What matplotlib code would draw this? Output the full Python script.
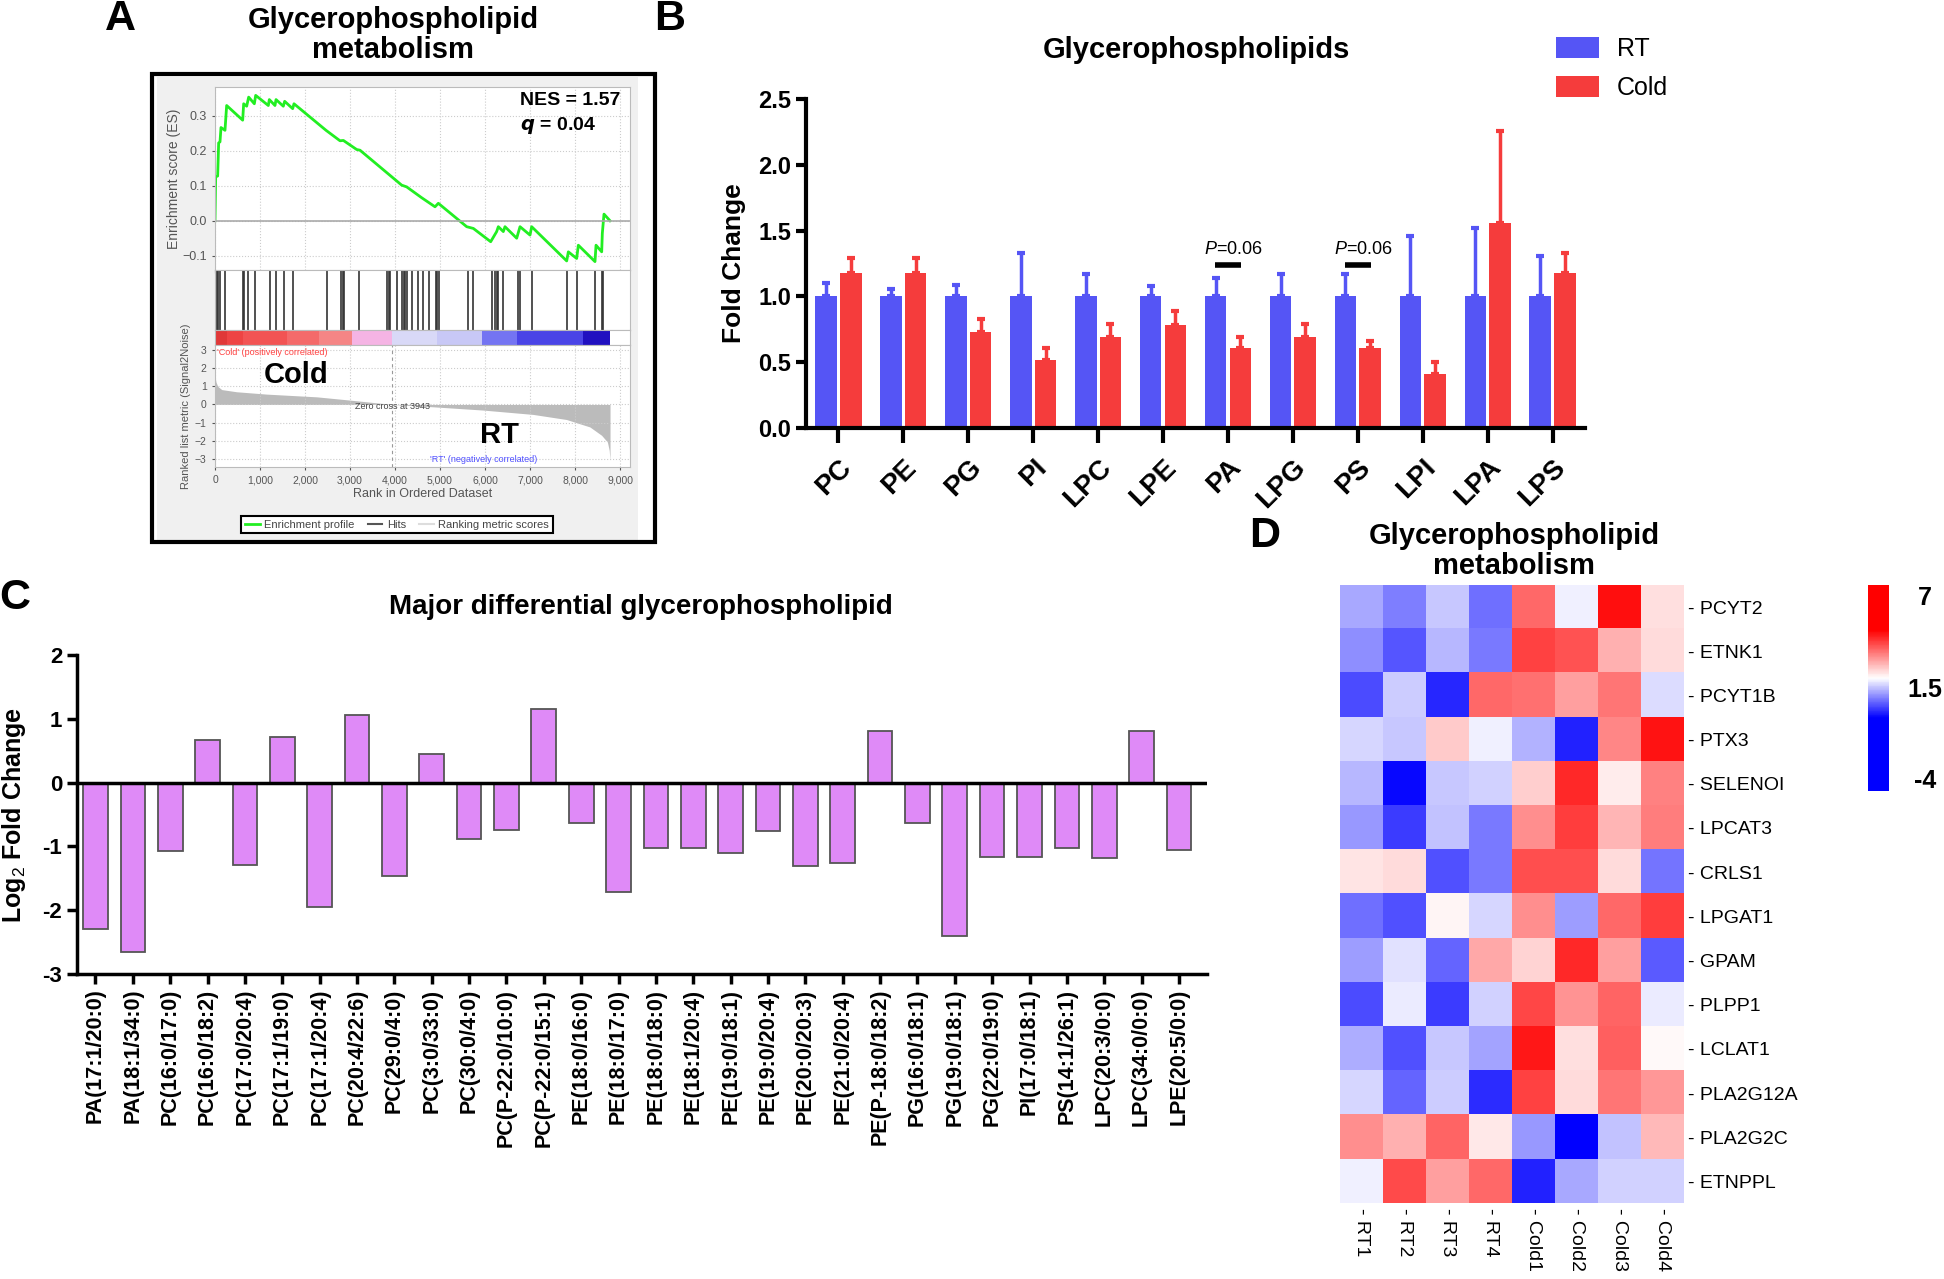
import matplotlib
matplotlib.use('Agg')
import numpy as np
import matplotlib.pyplot as plt
from matplotlib.colors import LinearSegmentedColormap, Normalize
from matplotlib.cm import ScalarMappable
from matplotlib.lines import Line2D
from matplotlib.patches import Rectangle

plt.rcParams['font.family'] = ['Liberation Sans', 'DejaVu Sans']
plt.rcParams['mathtext.fontset'] = 'custom'
plt.rcParams['mathtext.rm'] = 'Liberation Sans'
plt.rcParams['mathtext.it'] = 'Liberation Sans:italic'
plt.rcParams['mathtext.bf'] = 'Liberation Sans:bold'

# ---------------- data: panel A (GSEA) ----------------
es_rank = [0, 15, 59, 81, 111, 133, 222, 237, 259, 615, 637, 704, 748, 874, 904, 1185, 1207,
           1333, 1356, 1518, 1548, 1726, 1755, 2467, 2778, 2852, 3148, 3222, 4148, 4259, 4592,
           4889, 4963, 5593, 5741, 6126, 6259, 6296, 6407, 6444, 6704, 6778, 7000, 7037, 7815,
           7852, 8037, 8074, 8444, 8467, 8593, 8607, 8644, 8778]
es_score = [0.0, 0.126, 0.128, 0.223, 0.226, 0.267, 0.259, 0.288, 0.330, 0.288, 0.335, 0.328,
            0.354, 0.335, 0.359, 0.330, 0.347, 0.330, 0.347, 0.328, 0.342, 0.321, 0.335, 0.259,
            0.229, 0.230, 0.204, 0.202, 0.102, 0.097, 0.066, 0.040, 0.050, -0.017, -0.022,
            -0.060, -0.031, -0.017, -0.031, -0.017, -0.050, -0.017, -0.041, -0.017, -0.115,
            -0.089, -0.108, -0.070, -0.117, -0.070, -0.089, -0.036, 0.019, 0.0]
hit_ranks = [37, 74, 111, 222, 630, 652, 741, 889, 1222, 1356, 1541, 1741, 2481, 2800, 2837,
             2874, 3207, 3830, 3867, 3889, 4037, 4163, 4200, 4222, 4259, 4370, 4519, 4630, 4763,
             4904, 4941, 4978, 5630, 5741, 6148, 6222, 6259, 6296, 6407, 6741, 6778, 7037, 7830,
             8052, 8444, 8607, 8630]
metric_rank = [0, 20, 60, 150, 480, 1150, 2260, 3000, 3943, 4850, 5960, 7070, 7810, 8330, 8590,
               8720, 8760, 8778]
metric_val = [1.6, 1.25, 1.0, 0.82, 0.70, 0.57, 0.42, 0.24, 0.0, -0.13, -0.31, -0.55, -0.83,
              -1.24, -1.70, -2.07, -2.53, -3.08]
strip_edges = [0, 260, 630, 1590, 2300, 3040, 3930, 4930, 5930, 6700, 8180, 8780]
strip_colors = ['#e03838', '#ee4444', '#f25454', '#f46a6a', '#f58585', '#f5b4e4', '#d9d9f7',
                '#c8c8f6', '#7474f2', '#4a44e6', '#2010c0']

# ---------------- data: panel B ----------------
classes = ['PC', 'PE', 'PG', 'PI', 'LPC', 'LPE', 'PA', 'LPG', 'PS', 'LPI', 'LPA', 'LPS']
rt_mean = [1.0] * 12
rt_err = [0.10, 0.06, 0.09, 0.33, 0.17, 0.08, 0.14, 0.17, 0.17, 0.46, 0.52, 0.31]
cold_mean = [1.18, 1.18, 0.73, 0.52, 0.69, 0.78, 0.61, 0.69, 0.61, 0.41, 1.56, 1.18]
cold_err = [0.11, 0.11, 0.10, 0.09, 0.10, 0.11, 0.08, 0.10, 0.05, 0.09, 0.70, 0.15]
pval_groups = ['PA', 'PS']

# ---------------- data: panel C ----------------
lipids = ['PA(17:1/20:0)', 'PA(18:1/34:0)', 'PC(16:0/17:0)', 'PC(16:0/18:2)', 'PC(17:0/20:4)',
          'PC(17:1/19:0)', 'PC(17:1/20:4)', 'PC(20:4/22:6)', 'PC(29:0/4:0)', 'PC(3:0/33:0)',
          'PC(30:0/4:0)', 'PC(P-22:0/10:0)', 'PC(P-22:0/15:1)', 'PE(18:0/16:0)', 'PE(18:0/17:0)',
          'PE(18:0/18:0)', 'PE(18:1/20:4)', 'PE(19:0/18:1)', 'PE(19:0/20:4)', 'PE(20:0/20:3)',
          'PE(21:0/20:4)', 'PE(P-18:0/18:2)', 'PG(16:0/18:1)', 'PG(19:0/18:1)', 'PG(22:0/19:0)',
          'PI(17:0/18:1)', 'PS(14:1/26:1)', 'LPC(20:3/0:0)', 'LPC(34:0/0:0)', 'LPE(20:5/0:0)']
log2fc = [-2.29, -2.66, -1.07, 0.66, -1.29, 0.71, -1.95, 1.06, -1.46, 0.45, -0.89, -0.74, 1.16,
          -0.64, -1.72, -1.02, -1.02, -1.11, -0.76, -1.31, -1.26, 0.81, -0.64, -2.40, -1.16,
          -1.16, -1.02, -1.18, 0.81, -1.06]

# ---------------- data: panel D ----------------
genes = ['PCYT2', 'ETNK1', 'PCYT1B', 'PTX3', 'SELENOI', 'LPCAT3', 'CRLS1', 'LPGAT1', 'GPAM',
         'PLPP1', 'LCLAT1', 'PLA2G12A', 'PLA2G2C', 'ETNPPL']
samples = ['RT1', 'RT2', 'RT3', 'RT4', 'Cold1', 'Cold2', 'Cold3', 'Cold4']
expr = [
    [1.36, 1.00, 1.67, 0.86, 3.88, 2.08, 4.93, 2.55],
    [1.12, 0.59, 1.55, 0.93, 4.32, 4.14, 3.10, 2.61],
    [0.50, 1.70, 0.18, 3.88, 3.82, 3.27, 3.74, 1.86],
    [1.84, 1.65, 2.78, 2.06, 1.46, 0.11, 3.56, 4.87],
    [1.53, -0.10, 1.67, 1.77, 2.72, 4.64, 2.40, 3.59],
    [1.24, 0.35, 1.60, 0.95, 3.48, 4.38, 3.01, 3.65],
    [2.49, 2.61, 0.54, 0.93, 4.20, 4.20, 2.61, 0.90],
    [0.83, 0.54, 2.29, 1.84, 3.48, 1.29, 3.91, 4.38],
    [1.29, 1.91, 0.76, 3.19, 2.69, 4.61, 3.27, 0.64],
    [0.52, 2.03, 0.38, 1.79, 4.29, 3.42, 3.94, 2.03],
    [1.41, 0.54, 1.65, 1.31, 4.84, 2.55, 4.00, 2.23],
    [1.84, 0.76, 1.72, 0.21, 4.32, 2.61, 3.74, 3.36],
    [3.48, 3.10, 3.94, 2.46, 1.24, -4.00, 1.60, 2.98],
    [2.06, 4.26, 3.27, 3.88, 0.11, 1.38, 1.79, 1.79],
]
cbar_ticks = [-4, 1.5, 7]

W, H = 1944, 1279


def box(l, t, r, b):
    # pixel box -> figure fraction rect
    return [l / W, 1 - b / H, (r - l) / W, (b - t) / H]


fig = plt.figure(figsize=(W / 100, H / 100), dpi=100)

# ================= Panel A =================
fig.patches.append(Rectangle((157 / W, 1 - 540 / H), (638 - 157) / W, (540 - 77) / H,
                             transform=fig.transFigure, fc='#f0f0f0', ec='none', zorder=-5))
fig.patches.append(Rectangle((152 / W, 1 - 542 / H), (655 - 152) / W, (542 - 74) / H,
                             transform=fig.transFigure, fill=False, ec='black', lw=3, zorder=5))
gcol = '#555555'
xmax = 9222

ax_es = fig.add_axes(box(215, 87, 630, 270))
ax_es.plot(es_rank, es_score, color='#22ee22', lw=2)
ax_es.axhline(0, color='#aaaaaa', lw=1.2)
ax_es.set_xlim(0, xmax)
ax_es.set_ylim(-0.141, 0.383)
ax_es.set_yticks([-0.1, 0.0, 0.1, 0.2, 0.3])
ax_es.set_xticks(range(0, 9001, 1000))
ax_es.set_xticklabels([])
ax_es.grid(True, ls=':', color='#cccccc', lw=0.8)
ax_es.set_ylabel('Enrichment score (ES)', fontsize=10, color=gcol)
ax_es.yaxis.set_label_coords(-0.082, 0.5)
ax_es.text(6780, 0.345, 'NES = 1.57', fontsize=14, fontweight='bold', va='center')
ax_es.text(6780, 0.273, r'$\mathbfit{q}$ = 0.04', fontsize=14, fontweight='bold', va='center')

ax_hit = fig.add_axes(box(215, 270, 630, 330))
ax_hit.vlines(hit_ranks, 0, 1, color='#333333', lw=1.2)
ax_hit.set_xlim(0, xmax)
ax_hit.set_ylim(0, 1)

ax_strip = fig.add_axes(box(215, 330, 630, 345))
for i, c in enumerate(strip_colors):
    ax_strip.axvspan(strip_edges[i], strip_edges[i + 1], color=c, lw=0)
ax_strip.set_xlim(0, xmax)

ax_rank = fig.add_axes(box(215, 345, 630, 467))
ax_rank.fill_between(metric_rank, metric_val, 0, color='#bbbbbb', lw=0)
ax_rank.axvline(3943, color='#999999', ls=(0, (3, 3)), lw=0.8)
ax_rank.set_xlim(0, xmax)
ax_rank.set_ylim(-3.45, 3.28)
ax_rank.set_yticks(range(-3, 4))
ax_rank.set_xticks(range(0, 9001, 1000))
ax_rank.set_xticklabels([f'{v:,}' for v in range(0, 9001, 1000)])
ax_rank.grid(True, ls=':', color='#cccccc', lw=0.8)
ax_rank.set_xlabel('Rank in Ordered Dataset', fontsize=9, color=gcol, labelpad=2)
ax_rank.set_ylabel('Ranked list metric (Signal2Noise)', fontsize=8, color=gcol)
ax_rank.yaxis.set_label_coords(-0.058, 0.5)
ax_rank.text(45, 2.88, "'Cold' (positively correlated)", fontsize=6.5, color='#ff4040', va='center')
ax_rank.text(3943, -0.09, 'Zero cross at 3943', fontsize=6.5, color='#444444', ha='center', va='center')
ax_rank.text(5966, -3.03, "'RT' (negatively correlated)", fontsize=6.5, color='#5050ff', ha='center', va='center')
ax_rank.text(1800, 1.62, 'Cold', fontsize=21, fontweight='bold', ha='center', va='center')
ax_rank.text(6311, -1.70, 'RT', fontsize=21, fontweight='bold', ha='center', va='center')

for a in (ax_es, ax_hit, ax_strip, ax_rank):
    for s in a.spines.values():
        s.set_color('#bbbbbb')
    a.tick_params(colors=gcol, labelsize=8, length=2.5)
for a in (ax_hit, ax_strip):
    a.set_xticks([])
    a.set_yticks([])
ax_es.tick_params(labelsize=9)
ax_rank.tick_params(labelsize=7.5)

handles = [Line2D([], [], color='#22ee22', lw=2), Line2D([], [], color='#555555', lw=1.5),
           Line2D([], [], color='#dddddd', lw=1.5)]
leg = fig.legend(handles, ['Enrichment profile', 'Hits', 'Ranking metric scores'], ncol=3,
                 loc='center', bbox_to_anchor=(397 / W, 1 - 524.5 / H), fontsize=8,
                 handlelength=1.3, columnspacing=1.2, handletextpad=0.4, fancybox=False,
                 edgecolor='black', borderpad=0.35, framealpha=1)
leg.get_frame().set_linewidth(1.5)
for t in leg.get_texts():
    t.set_color('#444444')

# ================= Panel B =================
blue, red = '#5555f5', '#f53c3c'
xb = np.arange(len(classes))
ax_b = fig.add_axes(box(806, 99, 1585, 428))
b1 = ax_b.bar(xb - 0.19, rt_mean, 0.33, color=blue, label='RT')
b2 = ax_b.bar(xb + 0.19, cold_mean, 0.33, color=red, label='Cold')
ax_b.errorbar(xb - 0.19, rt_mean, yerr=[np.zeros(12), rt_err], fmt='none', ecolor=blue,
              elinewidth=2.5, capsize=3, capthick=3)
ax_b.errorbar(xb + 0.19, cold_mean, yerr=[np.zeros(12), cold_err], fmt='none', ecolor=red,
              elinewidth=2.5, capsize=3, capthick=3)
for g in pval_groups:
    i = classes.index(g)
    ax_b.plot([i - 0.2, i + 0.2], [1.24, 1.24], color='black', lw=4, solid_capstyle='butt')
    ax_b.text(i + 0.08, 1.36, r'$\it{P}$=0.06', fontsize=13, ha='center', va='center',
              family=['Liberation Sans Narrow', 'Liberation Sans'])
ax_b.set_xlim(-0.5, 11.5)
ax_b.set_ylim(0, 2.5)
ax_b.set_yticks(np.arange(0, 2.51, 0.5))
ax_b.set_yticklabels([f'{v:.1f}' for v in np.arange(0, 2.51, 0.5)], fontsize=17, fontweight='bold',
                     family=['Liberation Sans Narrow', 'Liberation Sans'])
ax_b.set_xticks(xb)
ax_b.set_xticklabels(classes, rotation=45, ha='right', va='top', rotation_mode='anchor',
                     fontsize=20, fontweight='bold')
ax_b.spines[['top', 'right']].set_visible(False)
ax_b.spines['left'].set_linewidth(3)
ax_b.spines['bottom'].set_linewidth(3)
ax_b.tick_params(axis='y', width=3, length=7)
ax_b.tick_params(axis='x', width=3, length=11, pad=8)
ax_b.set_ylabel('Fold Change', fontsize=19, fontweight='bold')
ax_b.yaxis.set_label_coords(-0.077, 0.5)
fig.text(1196 / W, 1 - 50 / H, 'Glycerophospholipids', fontsize=21, fontweight='bold',
         ha='center', va='center')
fig.legend([b1, b2], ['RT', 'Cold'], loc='upper left', bbox_to_anchor=(1533 / W, 1 - 14 / H),
           frameon=False, fontsize=18, handlelength=1.75, handleheight=0.95, labelspacing=0.6,
           handletextpad=0.7)

# ================= Panel C =================
xc = np.arange(len(lipids))
ax_c = fig.add_axes(box(76.8, 655, 1207, 974))
ax_c.bar(xc, log2fc, 0.66, color='#df8af7', edgecolor='#555555', lw=1.3)
ax_c.axhline(0, color='black', lw=2.5)
ax_c.set_xlim(-0.5, 29.75)
ax_c.set_ylim(-3, 2)
ax_c.set_yticks(range(-3, 3))
ax_c.set_yticklabels([str(v) for v in range(-3, 3)], fontsize=16, fontweight='bold')
ax_c.set_xticks(xc)
ax_c.set_xticklabels(lipids, rotation=90, fontsize=15.5, fontweight='bold')
ax_c.spines[['top', 'right']].set_visible(False)
ax_c.spines['left'].set_linewidth(2.5)
ax_c.spines['bottom'].set_linewidth(2.5)
ax_c.tick_params(axis='both', width=2.5, length=7)
ax_c.set_ylabel(r'Log$_2$ Fold Change', fontsize=18, fontweight='bold')
ax_c.yaxis.set_label_coords(-0.043, 0.5)
fig.text(641 / W, 1 - 607 / H, 'Major differential glycerophospholipid', fontsize=20,
         fontweight='bold', ha='center', va='center')

# ================= Panel D =================
vmin, vmax = -4.6, 7.8
cmap = LinearSegmentedColormap.from_list(
    'bwr_sat', [(0, '#0000ff'), (0.355, '#0000ff'), (0.548, '#ffffff'), (0.782, '#ff0000'),
                (1, '#ff0000')])
norm = Normalize(vmin, vmax)
ax_d = fig.add_axes(box(1340, 585, 1684, 1203.5))
ax_d.imshow(np.array(expr), cmap=cmap, norm=norm, aspect='auto', interpolation='nearest')
for s in ax_d.spines.values():
    s.set_visible(False)
ax_d.yaxis.tick_right()
ax_d.set_yticks(range(len(genes)))
ax_d.set_yticklabels(['- ' + g for g in genes], fontsize=14)
ax_d.set_xticks(range(len(samples)))
ax_d.set_xticklabels(['- ' + s for s in samples], rotation=270, fontsize=14)
ax_d.tick_params(length=0, pad=3)
fig.text(1514 / W, 1 - 551 / H, 'Glycerophospholipid\nmetabolism', fontsize=21,
         fontweight='bold', ha='center', va='center', linespacing=1.1)

cax = fig.add_axes(box(1868, 585, 1889, 791))
cb = fig.colorbar(ScalarMappable(norm=norm, cmap=cmap), cax=cax)
cb.outline.set_visible(False)
cax.set_yticks([])
for v in cbar_ticks:
    cax.text(2.7, v, f'{v:g}', transform=cax.get_yaxis_transform(), fontsize=18,
             fontweight='bold', ha='center', va='center')

# ================= panel letters and A title =================
for lab, (px, py) in {'A': (120, 19), 'B': (670, 19), 'C': (15, 598), 'D': (1265, 536)}.items():
    fig.text(px / W, 1 - py / H, lab, fontsize=31, fontweight='bold', ha='center', va='center')
fig.text(393 / W, 1 - 35 / H, 'Glycerophospholipid\nmetabolism', fontsize=21, fontweight='bold',
         ha='center', va='center', linespacing=1.1)

fig.savefig('out.png', dpi=100)
